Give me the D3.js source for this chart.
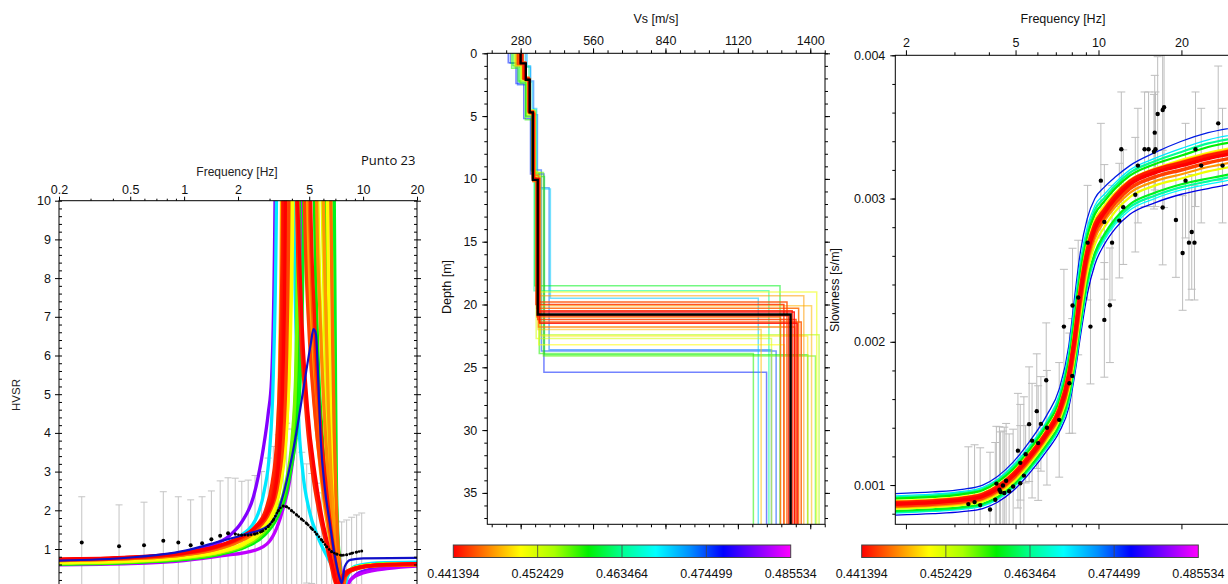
<!DOCTYPE html>
<html><head><meta charset="utf-8">
<script src="https://cdn.jsdelivr.net/npm/d3@7"></script>
<style>
body{margin:0;background:#fff}
svg{display:block}
</style>
</head><body>
<svg id="c" width="1228" height="584"></svg>
<script>
// ---------------- DATA ----------------
// misfit colour scale
const misfitRange = [0.441394, 0.485534];
const misfitTickLabels = ["0.441394","0.452429","0.463464","0.474499","0.485534"];
const cmapStops = [0,0.1,0.2,0.3,0.4,0.5,0.6,0.7,0.8,0.9,1];
const cmapColors = ["#ff0000","#ff8000","#ffff00","#a8ff00","#00f000","#00ff90","#00ffff","#0090ff","#0000ff","#8000ff","#ff00ff"];

// HVSR panel
const hvFreqTicks = [0.2,0.5,1,2,5,10,20];
const hvFreqMinor = [0.3,0.4,0.6,0.7,0.8,0.9,3,4,6,7,8,9];
const hvYTicks = [1,2,3,4,5,6,7,8,9,10];
// measured HVSR: [freq, hvsr, std]
const hvData = [
 [0.268,1.17,1.18],[0.433,1.07,1.07],[0.597,1.10,1.11],[0.765,1.21,1.27],[0.928,1.17,1.18],
 [1.088,1.10,1.17],[1.26,1.15,1.20],[1.42,1.25,1.25],[1.59,1.34,1.42],[1.76,1.41,1.43],[1.93,1.39,1.44],
 [2.10,1.36,1.39],[2.28,1.36,1.42],[2.49,1.39,1.51],[2.71,1.45,1.55],[2.95,1.58,1.77],[3.15,1.75,1.90],
 [3.36,1.99,1.96],[3.58,2.11,2.14],[3.74,2.09,2.16],[3.99,1.99,2.11],[4.26,1.88,1.97],[4.54,1.77,1.73],
 [4.84,1.66,1.54],[5.16,1.53,1.42],[5.50,1.39,1.31],[5.87,1.23,1.22],[6.26,1.06,1.14],[6.68,0.93,1.02],
 [7.12,0.87,0.85],[7.59,0.84,0.86],[8.09,0.85,0.90],[8.63,0.89,0.93],[9.20,0.92,0.96],[9.82,0.95,0.98]
];
// theoretical HVSR curves (worst misfit first; last one is the highlighted blue model)
const hvMisfit = [0.4812,0.4833,0.4688,0.4599,0.4590,0.4575,0.4560,0.4515,0.4511,0.4502,0.4480,0.4472,0.4467,0.4462,0.4450,0.4445,0.4436,0.4427,0.4420,0.4414,0.4767];
const hvCurves = [
 [[0.2,0.70],[0.4,0.75],[0.7,0.82],[1.0,0.92],[1.4,1.08],[1.8,1.35],[2.1,1.7],[2.44,2.35],[2.77,3.6],[2.95,4.5],[3.08,5.4],[3.22,10],[3.35,30],[3.6,60],[4.5,60],[5.6,40],[6.0,12],[6.15,8],[6.35,5],[6.6,3],[7.0,1.5],[7.4,0.6],[7.75,0.1],[8.0,0.04],[8.5,0.2],[9.6,0.4],[13,0.52],[20,0.58]],
 [[0.2,0.59],[0.5,0.62],[1.0,0.70],[1.6,0.82],[2.5,0.97],[3.0,1.2],[3.6,2.1],[3.9,2.8],[4.2,4.2],[4.4,6.5],[4.55,10],[4.7,40],[5.5,40],[5.95,12],[6.1,8],[6.3,5],[6.6,3],[7.0,1.7],[7.4,0.7],[7.8,0.1],[8.05,0.02],[8.5,0.2],[10,0.38],[14,0.5],[20,0.56]],
 [[0.2,0.68],[0.5,0.74],[1.0,0.86],[1.5,1.02],[2.0,1.3],[2.5,1.75],[2.8,2.5],[3.0,3.5],[3.15,5.5],[3.28,10],[3.4,40],[3.8,40],[4.05,12],[4.2,7],[4.35,4.5],[4.6,3],[5.0,2],[5.6,1.3],[6.3,0.8],[7.0,0.4],[7.6,0.08],[7.85,0.03],[8.2,0.3],[9,0.55],[12,0.64],[20,0.66]],
 [[0.2,0.61],[0.5,0.65],[1.0,0.73],[1.6,0.87],[2.2,1.05],[2.8,1.35],[3.3,1.8],[3.7,2.4],[4.0,3.2],[4.3,4.3],[4.5,6],[4.65,10],[4.8,40],[6.0,40],[6.85,12],[6.95,8],[7.02,5],[7.08,3],[7.18,1.7],[7.35,0.8],[7.55,0.2],[7.72,0.03],[8.0,0.35],[9,0.52],[12,0.6],[20,0.62]],
 [[0.2,0.62],[0.5,0.66],[1.0,0.74],[1.6,0.88],[2.2,1.07],[2.8,1.4],[3.3,1.85],[3.7,2.5],[4.0,3.4],[4.25,5],[4.4,10],[4.5,40],[5.1,40],[5.35,10],[5.6,6],[5.9,4],[6.3,2.5],[6.7,1.5],[7.05,0.7],[7.35,0.2],[7.6,0.02],[7.9,0.3],[9,0.5],[12,0.6],[20,0.62]],
 [[0.2,0.625],[0.5,0.665],[1.0,0.75],[1.6,0.89],[2.2,1.09],[2.8,1.42],[3.3,1.9],[3.7,2.6],[4.0,3.6],[4.2,5.2],[4.32,10],[4.45,40],[5.6,40],[6.2,10],[6.4,6.5],[6.6,4.2],[6.8,2.7],[7.0,1.6],[7.2,0.9],[7.45,0.3],[7.65,0.03],[7.95,0.3],[9,0.5],[12,0.6],[20,0.62]],
 [[0.2,0.63],[0.5,0.67],[1.0,0.76],[1.6,0.9],[2.2,1.1],[2.8,1.45],[3.3,1.95],[3.7,2.7],[4.0,3.8],[4.2,5.5],[4.35,10],[4.5,40],[5.8,40],[6.55,12],[6.7,8],[6.82,5],[6.95,3],[7.1,1.8],[7.3,0.9],[7.5,0.3],[7.68,0.04],[8.0,0.32],[9,0.5],[12,0.59],[20,0.61]],
 [[0.2,0.645],[0.5,0.685],[1.0,0.785],[1.6,0.93],[2.2,1.14],[2.8,1.52],[3.2,2.0],[3.5,2.8],[3.75,4.2],[3.92,7],[4.0,10],[4.1,40],[5.3,40],[5.9,10],[6.1,6.5],[6.35,4.2],[6.6,2.6],[6.85,1.5],[7.1,0.8],[7.35,0.25],[7.55,0.03],[7.85,0.3],[9,0.5],[12,0.59],[20,0.61]],
 [[0.2,0.65],[0.5,0.69],[1.0,0.79],[1.6,0.93],[2.2,1.15],[2.8,1.55],[3.2,2.05],[3.5,2.9],[3.7,4.5],[3.82,7],[3.9,10],[4.0,40],[5.0,40],[5.6,10],[5.85,6.5],[6.1,4.3],[6.4,2.7],[6.7,1.6],[7.0,0.85],[7.3,0.3],[7.52,0.03],[7.8,0.3],[9,0.5],[12,0.59],[20,0.61]],
 [[0.2,0.66],[0.5,0.70],[1.0,0.80],[1.6,0.95],[2.2,1.18],[2.8,1.6],[3.2,2.1],[3.5,2.9],[3.75,4.3],[3.95,7],[4.05,10],[4.2,40],[5.5,40],[6.25,12],[6.4,8],[6.55,5],[6.72,3],[6.9,1.8],[7.1,1.0],[7.35,0.35],[7.55,0.04],[7.8,0.3],[9,0.52],[12,0.6],[20,0.62]],
 [[0.2,0.72],[0.5,0.77],[1.0,0.87],[1.5,1.02],[2.0,1.22],[2.5,1.52],[2.9,1.95],[3.15,2.6],[3.3,3.7],[3.42,6],[3.5,10],[3.6,40],[4.5,40],[4.9,10],[5.2,6.8],[5.6,4.5],[6.0,3],[6.5,1.7],[6.9,0.9],[7.25,0.3],[7.5,0.03],[7.8,0.25],[9,0.47],[12,0.57],[20,0.6]],
 [[0.2,0.71],[0.5,0.76],[1.0,0.87],[1.5,1.02],[2.0,1.22],[2.5,1.5],[2.9,1.95],[3.15,2.6],[3.35,3.8],[3.5,6],[3.6,10],[3.7,40],[4.3,40],[4.7,12],[4.95,8],[5.3,5],[5.7,3.3],[6.1,2.1],[6.5,1.3],[6.9,0.65],[7.25,0.15],[7.45,0.03],[7.8,0.3],[9,0.5],[12,0.58],[20,0.6]],
 [[0.2,0.70],[0.5,0.75],[1.0,0.85],[1.5,0.99],[2.0,1.18],[2.5,1.45],[2.9,1.85],[3.2,2.4],[3.45,3.4],[3.65,5.5],[3.78,10],[3.9,40],[5.4,40],[6.0,10],[6.2,7],[6.4,4.6],[6.6,3],[6.85,1.8],[7.1,0.95],[7.35,0.35],[7.55,0.03],[7.85,0.3],[9,0.5],[12,0.58],[20,0.6]],
 [[0.2,0.71],[0.5,0.76],[1.0,0.86],[1.5,1.0],[2.0,1.2],[2.5,1.48],[2.9,1.9],[3.2,2.5],[3.45,3.6],[3.62,5.8],[3.72,10],[3.85,40],[5.0,40],[5.5,10],[5.75,7],[6.05,4.6],[6.4,2.8],[6.75,1.5],[7.05,0.7],[7.35,0.15],[7.55,0.03],[7.85,0.3],[9,0.5],[12,0.58],[20,0.6]],
 [[0.2,0.70],[0.5,0.75],[1.0,0.85],[1.5,0.99],[2.0,1.19],[2.5,1.46],[2.9,1.88],[3.25,2.5],[3.5,3.6],[3.68,5.8],[3.8,10],[3.92,40],[5.8,40],[6.6,10],[6.75,6.5],[6.9,4],[7.05,2.4],[7.2,1.3],[7.4,0.5],[7.6,0.08],[7.75,0.02],[8.0,0.3],[9,0.5],[12,0.58],[20,0.6]],
 [[0.2,0.72],[0.5,0.77],[1.0,0.88],[1.5,1.04],[2.0,1.25],[2.5,1.55],[2.9,2.0],[3.2,2.7],[3.45,4.0],[3.62,6.5],[3.72,10],[3.82,40],[4.4,40],[4.9,12],[5.15,8],[5.5,5],[5.9,3.2],[6.3,2.0],[6.7,1.1],[7.05,0.45],[7.35,0.06],[7.6,0.2],[8.5,0.45],[11,0.57],[20,0.61]],
 [[0.2,0.72],[0.5,0.77],[1.0,0.88],[1.5,1.03],[2.0,1.23],[2.5,1.5],[3.0,1.95],[3.35,2.7],[3.6,4.0],[3.75,6.3],[3.85,10],[3.95,40],[4.5,40],[4.7,10],[5.0,6.5],[5.4,4.4],[5.9,2.8],[6.4,1.7],[6.8,1.0],[7.2,0.4],[7.5,0.06],[7.75,0.2],[8.5,0.43],[11,0.56],[20,0.6]],
 [[0.2,0.73],[0.5,0.78],[1.0,0.89],[1.5,1.05],[2.0,1.27],[2.5,1.58],[2.85,2.0],[3.1,2.7],[3.3,3.9],[3.45,6.2],[3.55,10],[3.65,40],[4.0,40],[4.25,10],[4.45,7],[4.75,4.8],[5.2,3.0],[5.7,1.9],[6.2,1.15],[6.6,0.6],[7.0,0.12],[7.25,0.03],[7.6,0.3],[8.5,0.47],[11,0.57],[20,0.61]],
 [[0.2,0.73],[0.5,0.78],[1.0,0.89],[1.5,1.05],[2.0,1.26],[2.5,1.56],[2.9,1.98],[3.2,2.65],[3.4,3.8],[3.52,5.8],[3.6,10],[3.7,40],[4.6,40],[5.1,10],[5.35,7],[5.7,4.6],[6.1,3],[6.5,1.8],[6.9,0.9],[7.25,0.3],[7.5,0.03],[7.8,0.28],[9,0.48],[12,0.58],[20,0.61]],
 [[0.2,0.74],[0.5,0.79],[1.0,0.90],[1.5,1.06],[2.0,1.28],[2.5,1.55],[2.9,1.9],[3.2,2.45],[3.4,3.4],[3.55,5.2],[3.66,8.5],[3.74,16],[3.82,60],[3.95,30],[4.2,13],[4.5,7.5],[4.9,4.6],[5.4,2.9],[5.9,1.8],[6.4,1.05],[6.8,0.5],[7.2,0.06],[7.45,0.15],[8.0,0.38],[9,0.5],[11,0.57],[15,0.61],[20,0.62]],
 [[0.2,0.70],[0.5,0.78],[1.0,0.95],[1.59,1.2],[2.2,1.38],[2.9,1.58],[3.36,2.0],[3.9,3.13],[4.26,4.07],[4.7,5.3],[5.1,6.3],[5.28,6.68],[5.45,6.55],[5.6,5.5],[5.8,3.8],[6.1,2.6],[6.5,1.7],[6.9,0.9],[7.3,0.35],[7.6,0.12],[7.9,0.55],[8.5,0.72],[10,0.76],[20,0.77]]
];

// Vs profile panel
const vsTicks = [280,560,840,1120,1400];
const depthTicks = [0,5,10,15,20,25,30,35];
// [misfit, v1,d1, v2,d2, v3,d3, v4,d4, v5,d5, vHalfspace]
const vsProfiles = [
 [0.4758,232,0.75,262,2.4,292,5.2,318,9.6,370,25.4,1231],
 [0.4745,240,0.8,268,2.5,300,5.0,320,9.3,360,23.7,1268],
 [0.4732,300,1.1,318,2.2,330,4.9,345,10.7,390,23.6,1250],
 [0.4701,305,1.0,318,2.3,325,4.4,342,10.8,395,19.5,1199],
 [0.4635,292,1.05,312,2.3,318,4.5,339,9.5,332,18.9,1240],
 [0.4599,250,1.0,275,2.3,300,5.0,322,9.4,335,18.5,1283],
 [0.4590,262,0.9,285,2.0,305,4.8,330,9.8,372,24.0,1390],
 [0.4582,245,1.2,270,2.2,298,5.3,328,9.6,352,23.9,1180],
 [0.4568,255,1.1,280,2.4,303,5.1,325,9.5,368,24.1,1420],
 [0.4546,270,0.8,290,2.1,315,4.6,338,9.5,358,22.4,1434],
 [0.4524,262,0.95,283,2.2,305,4.9,332,9.6,340,22.7,1250],
 [0.4511,268,0.9,282,2.0,308,4.9,335,9.4,345,19.0,1425],
 [0.4502,258,1.0,288,1.9,310,4.5,330,10.0,350,23.2,1300],
 [0.4493,272,0.85,293,2.15,313,4.75,331,9.8,356,22.5,1390],
 [0.4480,275,0.7,295,2.1,312,4.8,333,9.9,347,22.0,1210],
 [0.4476,262,1.0,287,2.0,308,4.6,329,10.2,346,20.1,1405],
 [0.4467,265,0.8,290,2.0,318,4.7,336,10.1,344,19.3,1375],
 [0.4458,285,0.9,300,2.2,310,4.6,331,9.7,349,21.8,1340],
 [0.4454,280,0.9,296,2.0,314,4.7,332,10.0,343,21.0,1285],
 [0.4449,270,0.8,292,2.0,313,4.7,327,10.2,342,20.3,1355],
 [0.4445,276,0.8,291,2.0,310,4.7,325,10.0,351,21.4,1365],
 [0.4440,278,0.85,297,2.1,316,4.8,334,10.0,350,19.8,1310],
 [0.4436,290,0.7,300,1.9,312,4.6,329,10.1,346,21.2,1345],
 [0.4432,268,0.9,288,2.05,311,4.75,326,9.9,339,20.0,1298],
 [0.4427,282,0.8,294,2.0,314,4.7,330,10.0,352,20.5,1330],
 [0.4423,275,0.75,292,2.05,309,4.65,328,10.05,345,20.9,1317],
 [0.4418,286,0.8,298,2.1,317,4.8,332,9.95,354,21.5,1350],
 [0.4414,279,0.8,296,2.0,312,4.7,329,10.1,348,20.6,1338]
];
const vsBest = [280,0.8,300,2.1,315,4.7,327,10.08,346,20.8,1324];

// Dispersion panel (slowness stored in ms/m)
const dispFreqTicks = [2,5,10,20];
const dispFreqMinor = [3,4,6,7,8,9,30,40,50];
const slowTicks = [0.001,0.002,0.003,0.004];
const dispFreq = [1.83,2.5,3.2,3.8,4.3,4.9,5.6,6.5,7.2,7.8,8.2,8.6,9.1,9.7,10.5,11.5,13,16,20,25,32];
const dispMisfit = [0.4767,0.4758,0.4688,0.4682,0.4640,0.4635,0.4599,0.4590,0.4511,0.4502,0.4467,0.4472,0.4436,0.4423,0.4414];
const dispCurves = [
 [0.79,0.80,0.814,0.836,0.88,0.96,1.08,1.24,1.37,1.54,1.77,2.04,2.33,2.54,2.68,2.79,2.89,2.97,3.03,3.07,3.11],
 [0.94,0.952,0.97,1.0,1.06,1.16,1.3,1.49,1.67,1.97,2.32,2.63,2.86,3.0,3.08,3.15,3.23,3.32,3.40,3.46,3.50],
 [0.925,0.937,0.955,0.984,1.04,1.14,1.27,1.45,1.63,1.93,2.27,2.57,2.8,2.95,3.03,3.11,3.2,3.28,3.35,3.41,3.45],
 [0.805,0.816,0.83,0.853,0.898,0.98,1.1,1.26,1.39,1.57,1.8,2.08,2.38,2.58,2.71,2.82,2.92,3.0,3.06,3.10,3.14],
 [0.812,0.823,0.838,0.861,0.907,0.99,1.11,1.272,1.405,1.59,1.83,2.11,2.4,2.6,2.73,2.84,2.94,3.02,3.08,3.12,3.16],
 [0.915,0.927,0.945,0.973,1.03,1.125,1.255,1.435,1.605,1.89,2.21,2.52,2.76,2.92,3.005,3.09,3.18,3.26,3.325,3.385,3.425],
 [0.82,0.831,0.846,0.87,0.917,1.0,1.12,1.285,1.42,1.62,1.86,2.14,2.43,2.62,2.75,2.86,2.96,3.04,3.10,3.14,3.18],
 [0.905,0.917,0.935,0.963,1.02,1.11,1.24,1.42,1.58,1.86,2.16,2.48,2.73,2.89,2.98,3.07,3.16,3.24,3.30,3.36,3.40],
 [0.835,0.846,0.861,0.886,0.934,1.02,1.145,1.31,1.45,1.66,1.9,2.19,2.48,2.68,2.8,2.91,3.01,3.09,3.14,3.19,3.23],
 [0.89,0.901,0.918,0.945,1.0,1.09,1.22,1.39,1.55,1.81,2.1,2.42,2.68,2.85,2.95,3.04,3.13,3.21,3.27,3.32,3.36],
 [0.845,0.856,0.872,0.898,0.948,1.035,1.16,1.33,1.47,1.69,1.94,2.24,2.53,2.72,2.84,2.94,3.04,3.12,3.17,3.22,3.26],
 [0.884,0.895,0.912,0.94,0.994,1.083,1.212,1.383,1.54,1.79,2.07,2.39,2.66,2.83,2.935,3.03,3.125,3.205,3.26,3.31,3.35],
 [0.856,0.867,0.884,0.91,0.962,1.05,1.175,1.345,1.49,1.72,1.98,2.29,2.58,2.76,2.87,2.97,3.07,3.15,3.20,3.25,3.29],
 [0.878,0.889,0.906,0.934,0.988,1.077,1.205,1.375,1.53,1.78,2.05,2.37,2.64,2.82,2.92,3.02,3.12,3.20,3.25,3.30,3.34],
 [0.867,0.878,0.895,0.922,0.975,1.065,1.19,1.36,1.51,1.75,2.02,2.33,2.61,2.79,2.90,3.00,3.10,3.18,3.23,3.28,3.32]
];
// measured dispersion: [freq, slowness(ms/m), std(ms/m)]
const dispData = [
 [3.37,0.867,0.40],[3.55,0.881,0.40],[3.72,0.860,0.40],[4.04,0.829,0.40],[4.22,0.897,0.40],
 [4.26,1.010,0.40],[4.37,0.967,0.44],[4.41,0.951,0.42],[4.50,0.997,0.38],[4.55,0.944,0.46],
 [4.62,1.030,0.40],[4.74,0.957,0.40],[4.90,0.990,0.40],[5.10,1.240,0.40],[5.20,1.013,0.55],
 [5.20,1.155,0.26],[5.36,1.066,0.55],[5.44,1.215,0.20],[5.60,1.425,0.40],[5.74,1.310,0.40],
 [5.97,1.516,0.40],[6.04,1.293,0.40],[6.18,1.427,0.33],[6.46,1.732,0.40],[6.50,1.400,0.40],
 [7.20,1.455,0.40],[7.49,2.106,0.40],[7.84,1.711,0.35],[8.03,1.762,0.40],[8.05,2.253,0.40],
 [8.44,2.309,0.40],[9.13,2.692,0.40],[9.35,2.106,0.40],[10.2,3.125,0.40],[10.5,2.153,0.40],
 [10.5,2.837,0.40],[11.0,2.255,0.40],[11.2,2.692,0.40],[11.9,2.846,0.40],[12.1,3.344,0.40],
 [12.3,2.940,0.40],[13.6,3.027,0.40],[13.9,3.230,0.40],[14.7,3.344,0.40],[15.2,3.344,0.40],
 [15.9,3.327,0.40],[16.0,3.460,0.40],[16.1,3.344,0.40],[16.4,3.590,0.40],[17.1,2.937,0.40],
 [17.1,3.618,0.40],[17.3,3.637,0.70],[19.1,2.850,0.40],[20.2,2.620,0.40],[20.7,3.125,0.40],
 [21.3,2.692,0.40],[21.8,2.767,0.40],[22.3,2.692,0.40],[22.5,3.344,0.40],[23.6,3.230,0.40],
 [27.2,3.525,0.40],[28.2,3.230,0.40]
];

// ---------------- DRAWING ----------------
const svg = d3.select("#c");
const FONT = "'Liberation Sans', Arial, sans-serif";
const cnorm = d3.scaleLinear().domain(misfitRange).range([0,1]).clamp(true);
const cmap = d3.scaleLinear().domain(cmapStops).range(cmapColors).interpolate(d3.interpolateRgb);
const color = m => cmap(cnorm(m));
const defs = svg.append("defs");

function clip(id,x,y,w,h){
  defs.append("clipPath").attr("id",id).append("rect").attr("x",x).attr("y",y).attr("width",w).attr("height",h);
}
function axis(gen, tr, vals, size, pad, fmt, fs){
  const g = svg.append("g").attr("transform",tr)
    .call(gen.tickValues(vals).tickSize(size).tickPadding(pad).tickFormat(fmt));
  g.select(".domain").remove();
  g.attr("font-family",FONT).attr("font-size",fs||12.5);
  g.selectAll("text").attr("fill","#111");
  return g;
}
const none = () => "";

// ===== HVSR panel =====
const hx = d3.scaleLog().domain([0.2,20]).range([59,417]);
const hy = d3.scaleLinear().domain([0,10]).range([587.7,200.7]);
clip("cl1",59,200.7,358,387);
const g1 = svg.append("g").attr("clip-path","url(#cl1)");
const gb1 = g1.append("g").attr("stroke","#c4c4c4").attr("stroke-width",1).attr("fill","none");
hvData.forEach(d=>{
  const x = hx(d[0]), y0 = hy(d[1]-d[2]), y1 = hy(d[1]+d[2]);
  gb1.append("line").attr("x1",x).attr("x2",x).attr("y1",y0).attr("y2",y1);
  gb1.append("line").attr("x1",x-3.5).attr("x2",x+3.5).attr("y1",y1).attr("y2",y1);
  gb1.append("line").attr("x1",x-3.5).attr("x2",x+3.5).attr("y1",y0).attr("y2",y0);
});
const hvLine = d3.line().x(d=>hx(d[0])).y(d=>hy(d[1])).curve(d3.curveMonotoneX);
hvCurves.forEach((c,i)=>{
  const last = i===hvCurves.length-1;
  g1.append("path").attr("d",hvLine(c)).attr("fill","none")
    .attr("stroke", last ? "#1010c8" : color(hvMisfit[i]))
    .attr("stroke-width", last ? 2.2 : 3.3).attr("stroke-linejoin","round");
});
const dense = hvData.filter(d=>d[0]>1.9);
g1.append("path").attr("d",hvLine(dense)).attr("fill","none").attr("stroke","#000")
  .attr("stroke-width",2.6).attr("stroke-linecap","round").attr("stroke-dasharray","0.1,3.1");
g1.selectAll("circle.hd").data(hvData).join("circle").attr("class","hd")
  .attr("cx",d=>hx(d[0])).attr("cy",d=>hy(d[1])).attr("r",d=>d[0]>1.9?1.5:2).attr("fill","#000");
svg.append("rect").attr("x",59).attr("y",200.7).attr("width",358).attr("height",387).attr("fill","none").attr("stroke","#000");
axis(d3.axisTop(hx),"translate(0,200.7)",hvFreqTicks,4,3,d=>d,12.5);
axis(d3.axisTop(hx),"translate(0,200.7)",hvFreqMinor,2,0,none);
axis(d3.axisLeft(hy),"translate(59,0)",hvYTicks,4,4,d=>d,12.5);
axis(d3.axisRight(hy),"translate(59,0)",d3.range(0,10.01,0.2),3,0,none);
axis(d3.axisRight(hy),"translate(417,0)",hvYTicks,4,0,none);
axis(d3.axisLeft(hy),"translate(417,0)",d3.range(0,10.01,0.2),3,0,none);
svg.append("text").attr("x",237).attr("y",176).attr("text-anchor","middle").attr("font-family",FONT).attr("font-size",12).attr("fill","#222").text("Frequency [Hz]");
svg.append("text").attr("x",361).attr("y",165).attr("font-family","'Open Sans','Noto Sans',sans-serif").attr("font-size",13).attr("fill","#111").text("Punto 23");
svg.append("text").attr("transform","translate(20,395) rotate(-90)").attr("text-anchor","middle").attr("font-family",FONT).attr("font-size",11.5).attr("fill","#222").text("HVSR");

// ===== Vs profile panel =====
const vx = d3.scaleLinear().domain([151,1457]).range([487.3,825]);
const vy = d3.scaleLinear().domain([0,37.5]).range([53.3,524.3]);
clip("cl2",487.3,53.3,337.7,471);
const g2 = svg.append("g").attr("clip-path","url(#cl2)");
const vline = d3.line().x(d=>vx(d[0])).y(d=>vy(d[1]));
function profPts(p){
  const pts=[]; let top=0;
  for(let k=0;k<5;k++){ const v=p[2*k], d=p[2*k+1]; pts.push([v,top],[v,d]); top=d; }
  pts.push([p[10],top],[p[10],vy.domain()[1]]);
  return pts;
}
vsProfiles.forEach(p=>{
  const m=p[0];
  g2.append("path").attr("d",vline(profPts(p.slice(1)))).attr("fill","none")
    .attr("stroke",color(m)).attr("stroke-width",1.5)
    .attr("stroke-opacity", m<0.4465?0.85:0.55);
});
g2.append("path").attr("d",vline(profPts(vsBest))).attr("fill","none").attr("stroke","#000").attr("stroke-width",2.4);
svg.append("rect").attr("x",487.3).attr("y",53.3).attr("width",337.7).attr("height",471).attr("fill","none").attr("stroke","#000");
axis(d3.axisTop(vx),"translate(0,53.3)",vsTicks,5,3,d=>d,12.5);
axis(d3.axisTop(vx),"translate(0,53.3)",d3.range(168,1457,56),3,0,none);
axis(d3.axisBottom(vx),"translate(0,524.3)",vsTicks,5,0,none);
axis(d3.axisBottom(vx),"translate(0,524.3)",d3.range(168,1457,56),3,0,none);
axis(d3.axisLeft(vy),"translate(487.3,0)",depthTicks,5,5,d=>d,12.5);
axis(d3.axisLeft(vy),"translate(487.3,0)",d3.range(0,37.6,1),3,0,none);
axis(d3.axisRight(vy),"translate(825,0)",depthTicks,5,0,none);
axis(d3.axisRight(vy),"translate(825,0)",d3.range(0,37.6,1),3,0,none);
svg.append("text").attr("x",656).attr("y",23).attr("text-anchor","middle").attr("font-family",FONT).attr("font-size",12.5).attr("fill","#111").text("Vs [m/s]");
svg.append("text").attr("transform","translate(451,287) rotate(-90)").attr("text-anchor","middle").attr("font-family",FONT).attr("font-size",12.5).attr("fill","#111").text("Depth [m]");

// ===== Dispersion panel =====
const dx = d3.scaleLog().domain([1.83,50]).range([895.3, 895.3+275.5*Math.log10(50/1.83)]);
const dy = d3.scaleLinear().domain([0.000726,0.004]).range([524.3,55.3]);
const ms = v => v/1000;
clip("cl3",895.3,55.3,400,469);
const g3 = svg.append("g").attr("clip-path","url(#cl3)");
const gb3 = g3.append("g").attr("stroke","#bdbdbd").attr("stroke-width",1);
dispData.forEach(d=>{
  const x=dx(d[0]), y0=dy(ms(d[1]-d[2])), y1=dy(ms(d[1]+d[2]));
  gb3.append("line").attr("x1",x).attr("x2",x).attr("y1",y0).attr("y2",y1);
  gb3.append("line").attr("x1",x-4).attr("x2",x+4).attr("y1",y0).attr("y2",y0);
  gb3.append("line").attr("x1",x-4).attr("x2",x+4).attr("y1",y1).attr("y2",y1);
});
const dline = d3.line().x((d,i)=>dx(dispFreq[i])).y(d=>dy(ms(d))).curve(d3.curveMonotoneX);
dispCurves.forEach((c,i)=>{
  const m = dispMisfit[i];
  g3.append("path").attr("d",dline(c)).attr("fill","none")
    .attr("stroke", m>0.47 ? d3.color(color(m)).darker(0.3) : color(m))
    .attr("stroke-width", m<0.445 ? 3.6 : (m>0.465 ? 1.3 : 2.2));
});
g3.selectAll("circle.dd").data(dispData).join("circle").attr("class","dd")
  .attr("cx",d=>dx(d[0])).attr("cy",d=>dy(ms(d[1]))).attr("r",2.2).attr("fill","#000");
svg.append("rect").attr("x",895.3).attr("y",55.3).attr("width",400).attr("height",469).attr("fill","none").attr("stroke","#000");
axis(d3.axisTop(dx),"translate(0,55.3)",dispFreqTicks,5,3,d=>d,12.5);
axis(d3.axisTop(dx),"translate(0,55.3)",dispFreqMinor,3,0,none);
axis(d3.axisBottom(dx),"translate(0,524.3)",dispFreqTicks,5,0,none);
axis(d3.axisBottom(dx),"translate(0,524.3)",dispFreqMinor,3,0,none);
axis(d3.axisLeft(dy),"translate(895.3,0)",slowTicks,5,5,d=>d3.format(".3f")(d),12.5);
axis(d3.axisLeft(dy),"translate(895.3,0)",d3.range(0.0008,0.00401,0.0002),3,0,none);
svg.append("text").attr("x",1063).attr("y",23).attr("text-anchor","middle").attr("font-family",FONT).attr("font-size",12.5).attr("fill","#111").text("Frequency [Hz]");
svg.append("text").attr("transform","translate(839,290) rotate(-90)").attr("text-anchor","middle").attr("font-family",FONT).attr("font-size",12.5).attr("fill","#111").text("Slowness [s/m]");

// ===== Colour bars =====
const grad = defs.append("linearGradient").attr("id","cbg").attr("x1","0%").attr("x2","100%");
cmapStops.forEach((s,i)=>grad.append("stop").attr("offset",(s*100)+"%").attr("stop-color",cmapColors[i]));
function colorbar(x0,x1){
  const cs = d3.scaleLinear().domain(misfitRange).range([x0,x1]);
  const vals = misfitTickLabels.map(Number);
  svg.append("rect").attr("x",x0).attr("y",545).attr("width",x1-x0).attr("height",12.5).attr("fill","url(#cbg)").attr("stroke","#444").attr("stroke-width",1);
  vals.slice(1,4).forEach(v=>svg.append("line").attr("x1",cs(v)).attr("x2",cs(v)).attr("y1",545).attr("y2",557.5).attr("stroke","#444").attr("stroke-width",0.8));
  vals.forEach((v,i)=>svg.append("text").attr("x",cs(v)).attr("y",578).attr("text-anchor","middle")
    .attr("font-family",FONT).attr("font-size",12.5).attr("fill","#111").text(misfitTickLabels[i]));
}
colorbar(453.3,790.7);
colorbar(861.7,1198.3);
</script>
</body></html>
